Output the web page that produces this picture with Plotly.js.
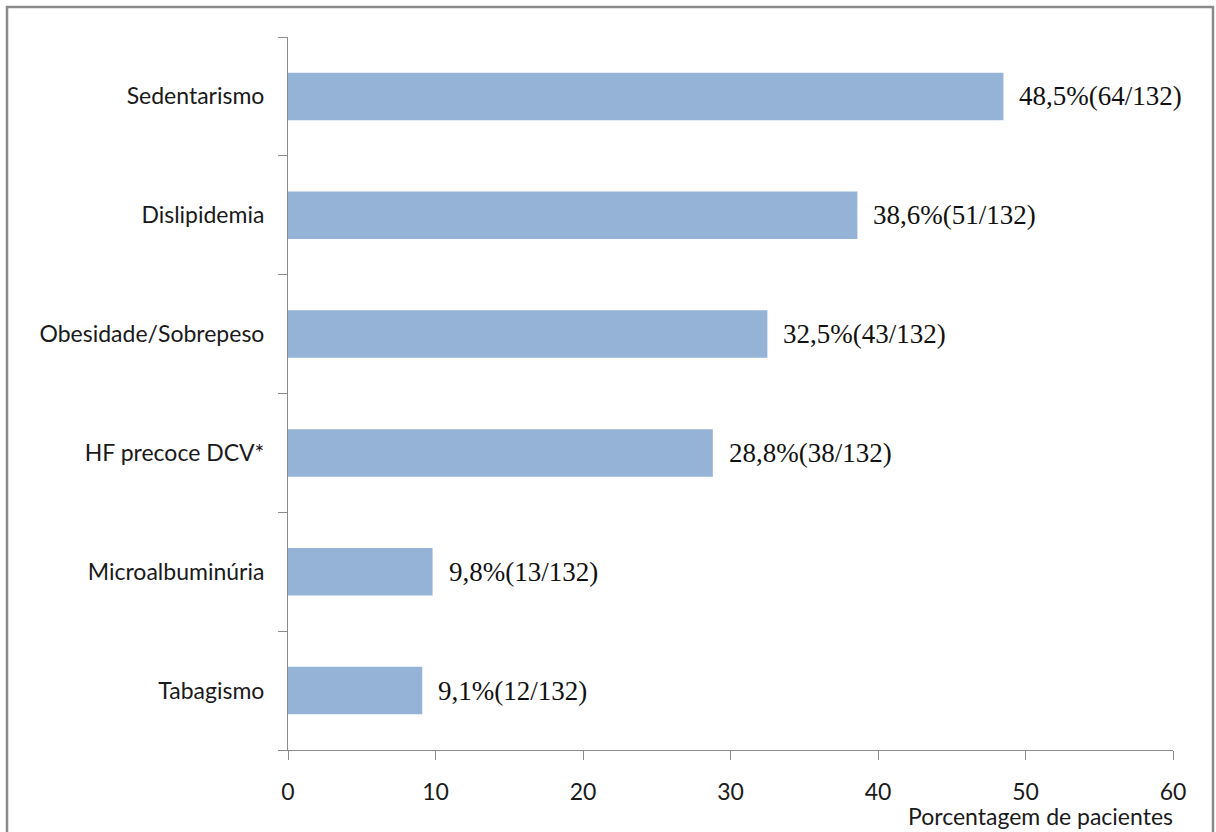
<!DOCTYPE html>
<html>
<head>
<meta charset="utf-8">
<script src="https://cdn.plot.ly/plotly-3.0.1.min.js"></script>
<style>
  html, body { margin: 0; padding: 0; background: #fff; }
  #chart { width: 1216px; height: 832px; }
</style>
</head>
<body>
<div id="chart"></div>
<script>
// Fatores de risco cardiovascular (n = 132), de baixo para cima
const fatores = ['Tabagismo', 'Microalbuminúria', 'HF precoce DCV*', 'Obesidade/Sobrepeso', 'Dislipidemia', 'Sedentarismo'];
const percentuais = [9.1, 9.8, 28.8, 32.5, 38.6, 48.5];
const pacientes = [12, 13, 38, 43, 51, 64];
const totalPacientes = 132;
const xTicks = [0, 10, 20, 30, 40, 50, 60];

const axisGray = '#8c8c8c';
const catFont = { family: 'Lato, Open Sans, sans-serif', size: 23, color: '#1a1a1a' };

const bars = {
  type: 'bar',
  orientation: 'h',
  y: fatores,
  x: percentuais,
  width: 0.4,
  marker: { color: '#95b3d7', line: { width: 0 } },
  hoverinfo: 'skip'
};

const rotulos = percentuais.map((v, i) => ({
  x: v,
  y: fatores[i],
  xref: 'x',
  yref: 'y',
  text: v.toFixed(1).replace('.', ',') + '%(' + pacientes[i] + '/' + totalPacientes + ')',
  showarrow: false,
  xanchor: 'left',
  yanchor: 'middle',
  xshift: 14,
  font: { family: 'Liberation Serif, Times New Roman, serif', size: 27, color: '#111' }
}));

rotulos.push({
  x: 1.002, y: -0.093, xref: 'paper', yref: 'paper',
  xanchor: 'right', yanchor: 'middle',
  text: 'Porcentagem de pacientes',
  showarrow: false,
  font: catFont
});

const layout = {
  width: 1216,
  height: 832,
  paper_bgcolor: '#fff',
  plot_bgcolor: '#fff',
  margin: { l: 288, r: 43, t: 37, b: 82 },
  showlegend: false,
  bargap: 0.6,
  xaxis: {
    range: [0, 60],
    tickvals: xTicks,
    ticktext: xTicks.map(String),
    showgrid: false,
    zeroline: false,
    showline: true,
    linecolor: axisGray,
    linewidth: 1,
    ticks: 'outside',
    ticklen: 9,
    tickcolor: axisGray,
    tickfont: catFont,
    ticklabelstandoff: 12,
    fixedrange: true
  },
  yaxis: {
    type: 'category',
    categoryorder: 'array',
    categoryarray: fatores,
    range: [-0.5, 5.5],
    showgrid: false,
    zeroline: false,
    showline: true,
    linecolor: axisGray,
    linewidth: 1,
    ticks: 'outside',
    tickson: 'boundaries',
    ticklen: 9,
    tickcolor: axisGray,
    tickfont: catFont,
    ticklabelstandoff: 18,
    fixedrange: true
  },
  annotations: rotulos,
  shapes: [{
    type: 'rect',
    xref: 'paper', yref: 'paper',
    x0: -0.3175, x1: 1.0452, y0: -0.2, y1: 1.0421,
    line: { color: '#8a8a8a', width: 2.5 },
    fillcolor: 'rgba(0,0,0,0)',
    layer: 'above'
  }]
};

Plotly.newPlot('chart', [bars], layout, { displayModeBar: false, staticPlot: true });
</script>
</body>
</html>
